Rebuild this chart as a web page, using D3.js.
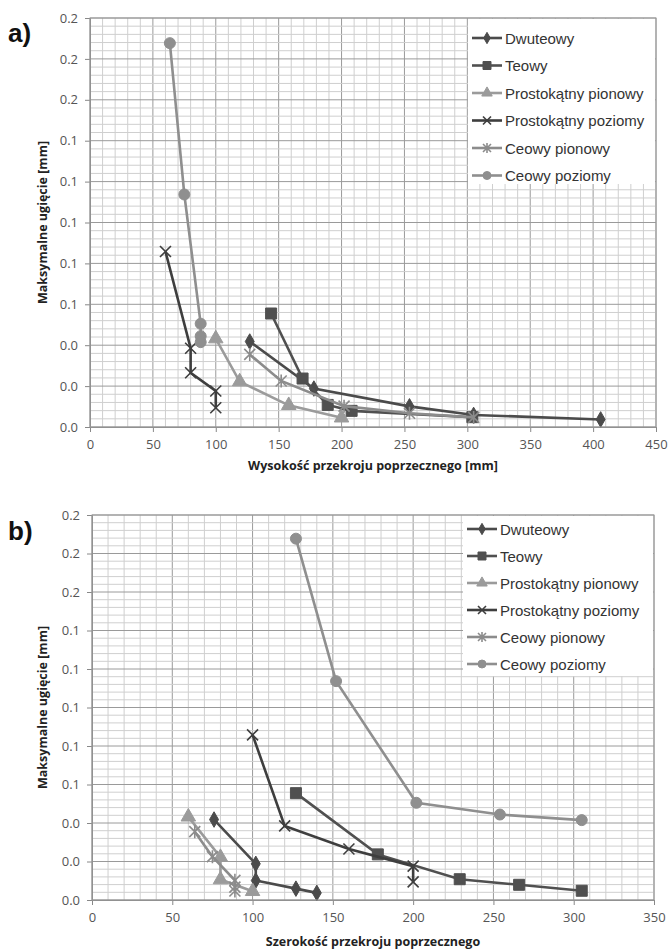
<!DOCTYPE html>
<html>
<head>
<meta charset="utf-8">
<script src="https://cdn.jsdelivr.net/npm/d3@7"></script>
<style>
  body { margin: 0; background: #fff; }
  .tick text { font-family: "Open Sans", sans-serif; font-size: 13px; fill: #555; }
  .axis-title { font-family: "Open Sans", sans-serif; font-size: 12.5px; font-weight: bold; fill: #222; }
  .legend-label { font-family: "Liberation Sans", Arial, sans-serif; font-size: 15px; fill: #333; }
  .panel-label { font-family: "Liberation Sans", Arial, sans-serif; font-size: 26px; font-weight: bold; fill: #111; }
</style>
</head>
<body>
<div id="svg"></div>
<script>
/* Maksymalne ugiecie vs wymiary przekroju, dwa wykresy a) i b) */

let seriesNames = ["Dwuteowy", "Teowy", "Prostokątny pionowy", "Prostokątny poziomy", "Ceowy pionowy", "Ceowy poziomy"];

// deflection [mm] - same for both charts
let dwuteowyY = [0.0418, 0.0188, 0.0101, 0.0059, 0.0037];
let teowyY = [0.0555, 0.0237, 0.0108, 0.0079, 0.0048];
let prostPionY = [0.0432, 0.0222, 0.0106, 0.0045];
let prostPozY = [0.0858, 0.0385, 0.0265, 0.0176, 0.0094];
let ceowyPionY = [0.0355, 0.0225, 0.0102, 0.0067, 0.0047];
let ceowyPozY = [0.1877, 0.1137, 0.0505, 0.0444, 0.0415];

// a) height of cross-section [mm]
let dwuteowyH = [127, 178, 254, 305, 406];
let teowyH = [144, 169, 189, 208, 304];
let prostPionH = [100, 119, 158, 200];
let prostPozH = [60, 80, 80, 100, 100];
let ceowyPionH = [127, 152, 202, 254, 305];
let ceowyPozH = [63.5, 75, 88, 88, 88];

// b) width of cross-section
let dwuteowyW = [76, 102, 102, 127, 140];
let teowyW = [127, 178, 229, 266, 305];
let prostPionW = [60, 80, 80, 100];
let prostPozW = [100, 120, 160, 200, 200];
let ceowyPionW = [64, 75, 89, 89, 89];
let ceowyPozW = [127, 152, 202, 254, 305];

let yTickValues = [0, 0.02, 0.04, 0.06, 0.08, 0.1, 0.12, 0.14, 0.16, 0.18, 0.2];
let xTicksA = [0, 50, 100, 150, 200, 250, 300, 350, 400, 450];
let xTicksB = [0, 50, 100, 150, 200, 250, 300, 350];

let styles = [
  { color: "#4b4b4b", marker: "diamond" },
  { color: "#505050", marker: "square" },
  { color: "#9b9b9b", marker: "triangle" },
  { color: "#3e3e3e", marker: "x" },
  { color: "#8c8c8c", marker: "star" },
  { color: "#8f8f8f", marker: "circle" }
];

function markerPath(type, s) {
  // s = half size
  if (type === "diamond") return d3.symbol(d3.symbolDiamond, s * s * 2.3)();
  if (type === "square") return d3.symbol(d3.symbolSquare, s * s * 4)();
  if (type === "triangle") return d3.symbol(d3.symbolTriangle, s * s * 3)();
  if (type === "circle") return d3.symbol(d3.symbolCircle, s * s * 3.14)();
  if (type === "x") return `M${-s},${-s}L${s},${s}M${s},${-s}L${-s},${s}`;
  return `M${-s},${-s}L${s},${s}M${s},${-s}L${-s},${s}M0,${-s - 1}L0,${s + 1}`;
}

function drawMarker(g, type, color, s) {
  let open = type === "x" || type === "star";
  g.append("path")
    .attr("d", markerPath(type, s))
    .attr("fill", open ? "none" : color)
    .attr("stroke", color)
    .attr("stroke-width", open ? 1.6 : 1);
}

function makePanel(svg, cfg) {
  let x = d3.scaleLinear().domain(cfg.xDomain).range([cfg.left, cfg.right]);
  let y = d3.scaleLinear().domain([0, 0.2]).range([cfg.bottom, cfg.top]);

  let grid = svg.append("g");
  // minor grid
  d3.range(cfg.xDomain[0], cfg.xDomain[1] + 1, 10).forEach(v => {
    grid.append("line").attr("x1", x(v)).attr("x2", x(v)).attr("y1", cfg.top).attr("y2", cfg.bottom)
      .attr("stroke", v % 50 === 0 ? "#9a9a9a" : "#cfcfcf").attr("stroke-width", 1);
  });
  d3.range(0, 51).forEach(i => {
    let v = i * 0.004;
    grid.append("line").attr("x1", cfg.left).attr("x2", cfg.right).attr("y1", y(v)).attr("y2", y(v))
      .attr("stroke", i % 5 === 0 ? "#9a9a9a" : "#cfcfcf").attr("stroke-width", 1);
  });

  svg.append("g")
    .attr("transform", `translate(${cfg.left},0)`)
    .call(d3.axisLeft(y).tickValues(yTickValues).tickFormat(d3.format(".1f")).tickSize(5).tickPadding(7))
    .call(g => g.selectAll("line, path").attr("stroke", "#888"));

  svg.append("g")
    .attr("transform", `translate(0,${cfg.bottom})`)
    .call(d3.axisBottom(x).tickValues(cfg.xTicks).tickSize(5).tickPadding(8))
    .call(g => g.selectAll("line, path").attr("stroke", "#888"));

  // lines and markers
  cfg.series.forEach((s, i) => {
    let pts = s.x.map((v, j) => [v, s.y[j]]);
    let st = styles[i];
    svg.append("path")
      .datum(pts)
      .attr("fill", "none")
      .attr("stroke", st.color)
      .attr("stroke-width", 2.6)
      .attr("d", d3.line().x(d => x(d[0])).y(d => y(d[1])));
    pts.forEach(p => {
      let g = svg.append("g").attr("transform", `translate(${x(p[0])},${y(p[1])})`);
      drawMarker(g, st.marker, st.color, 5.5);
    });
  });

  // legend
  let lg = svg.append("g");
  lg.append("rect")
    .attr("x", cfg.legend.x).attr("y", cfg.top + 1)
    .attr("width", cfg.right - cfg.legend.x - 1).attr("height", cfg.legend.h)
    .attr("fill", "#fff");
  seriesNames.forEach((name, i) => {
    let ly = cfg.legend.y0 + i * cfg.legend.dy;
    let lx = cfg.legend.x + 4;
    lg.append("line").attr("x1", lx).attr("x2", lx + 30).attr("y1", ly).attr("y2", ly)
      .attr("stroke", styles[i].color).attr("stroke-width", 2.6);
    let g = lg.append("g").attr("transform", `translate(${lx + 15},${ly})`);
    drawMarker(g, styles[i].marker, styles[i].color, 4);
    lg.append("text").classed("legend-label", true)
      .attr("x", lx + 33).attr("y", ly + 5.5)
      .text(name);
  });

  svg.append("rect")
    .attr("x", cfg.left).attr("y", cfg.top)
    .attr("width", cfg.right - cfg.left).attr("height", cfg.bottom - cfg.top)
    .attr("fill", "none").attr("stroke", "#999");

  svg.append("text").classed("axis-title", true)
    .attr("x", (cfg.left + cfg.right) / 2).attr("y", cfg.xTitleY)
    .attr("text-anchor", "middle")
    .text(cfg.xTitle);

  svg.append("text").classed("axis-title", true)
    .attr("transform", `translate(47,${(cfg.top + cfg.bottom) / 2}) rotate(-90)`)
    .attr("text-anchor", "middle")
    .text("Maksymalne ugięcie [mm]");

  svg.append("text").classed("panel-label", true)
    .attr("x", 8).attr("y", cfg.labelY)
    .text(cfg.label);
}

function makeGraph() {
  let w = 669, h = 952;
  let svg = d3.select("#svg").append("svg").attr("width", w).attr("height", h);

  makePanel(svg, {
    label: "a)", labelY: 42,
    left: 90, right: 656, top: 18, bottom: 427,
    xDomain: [0, 450], xTicks: xTicksA,
    xTitle: "Wysokość przekroju poprzecznego [mm]", xTitleY: 470,
    legend: { x: 468, h: 165, y0: 38, dy: 27.5 },
    series: [
      { x: dwuteowyH, y: dwuteowyY }, { x: teowyH, y: teowyY },
      { x: prostPionH, y: prostPionY }, { x: prostPozH, y: prostPozY },
      { x: ceowyPionH, y: ceowyPionY }, { x: ceowyPozH, y: ceowyPozY }
    ]
  });

  makePanel(svg, {
    label: "b)", labelY: 540,
    left: 92, right: 654, top: 515, bottom: 900,
    xDomain: [0, 350], xTicks: xTicksB,
    xTitle: "Szerokość przekroju poprzecznego", xTitleY: 946,
    legend: { x: 463, h: 160, y0: 529, dy: 27 },
    series: [
      { x: dwuteowyW, y: dwuteowyY }, { x: teowyW, y: teowyY },
      { x: prostPionW, y: prostPionY }, { x: prostPozW, y: prostPozY },
      { x: ceowyPionW, y: ceowyPionY }, { x: ceowyPozW, y: ceowyPozY }
    ]
  });
}

window.onload = function() {
  makeGraph();
};
</script>
</body>
</html>
